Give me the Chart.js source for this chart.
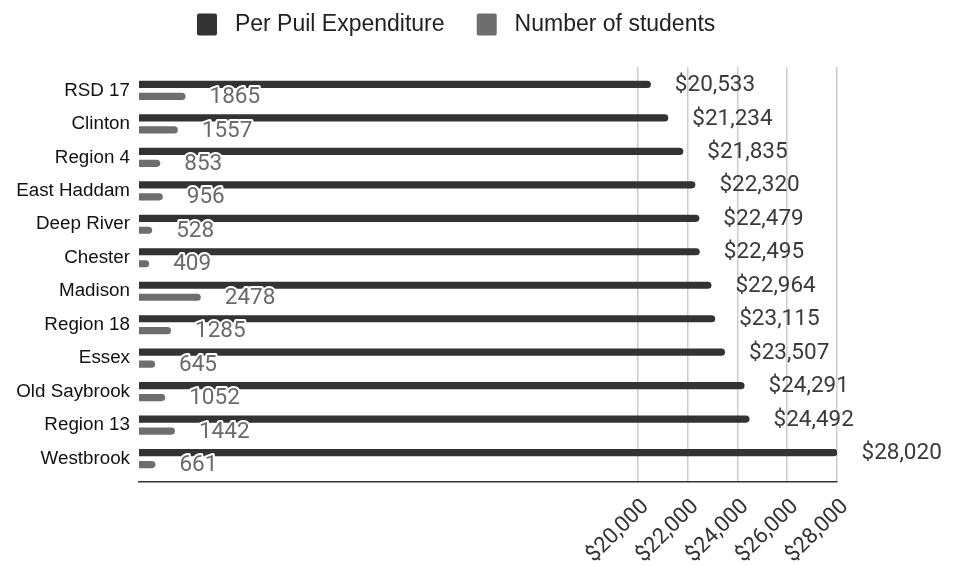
<!DOCTYPE html>
<html>
<head>
<meta charset="utf-8">
<title>Per Pupil Expenditure</title>
<script src="https://cdn.jsdelivr.net/npm/chart.js@4/dist/chart.umd.min.js"></script>
<style>
  html, body { margin: 0; padding: 0; background: #fff; }
  #wrap { width: 961px; height: 566px; }
</style>
</head>
<body>
<div id="wrap"><canvas id="expChart" width="961" height="566"></canvas></div>
<script>
// districts, top to bottom
const districts = ['RSD 17', 'Clinton', 'Region 4', 'East Haddam', 'Deep River', 'Chester',
    'Madison', 'Region 18', 'Essex', 'Old Saybrook', 'Region 13', 'Westbrook'];
const expenditure = [20533, 21234, 21835, 22320, 22479, 22495, 22964, 23115, 23507, 24291, 24492, 28020];
const students = [1865, 1557, 853, 956, 528, 409, 2478, 1285, 645, 1052, 1442, 661];
const xTicks = [20000, 22000, 24000, 26000, 28000];

const money = v => '$' + v.toLocaleString('en-US');

// value labels to the right of every bar
const barLabels = {
    id: 'barLabels',
    afterDatasetsDraw(chart) {
        const ctx = chart.ctx;
        ctx.save();
        ctx.textAlign = 'left';
        ctx.textBaseline = 'middle';
        chart.data.datasets.forEach((ds, di) => {
            const meta = chart.getDatasetMeta(di);
            meta.data.forEach((bar, i) => {
                const x = bar.x + 24;
                const y = bar.y + 1;
                if (di === 0) {
                    ctx.font = '22.5px Roboto';
                    ctx.fillStyle = '#3a3a3a';
                    ctx.fillText(money(expenditure[i]), x, y);
                } else {
                    ctx.font = '22.5px Roboto';
                    ctx.lineJoin = 'round';
                    ctx.lineWidth = 4;
                    ctx.strokeStyle = '#ffffff';
                    ctx.strokeText(String(students[i]), x, y);
                    ctx.fillStyle = '#6a6a6a';
                    ctx.fillText(String(students[i]), x, y);
                }
            });
        });
        ctx.restore();
    }
};

// extra room under the legend, and legend start position
const legendPlace = {
    id: 'legendPlace',
    beforeInit(chart) {
        const origFit = chart.legend.fit;
        chart.legend.fit = function fit() {
            origFit.bind(chart.legend)();
            this.height += 21;
        };
    },
    afterLayout(chart) {
        chart.legend.left = 197 - 13;
    }
};

const ctx = document.getElementById('expChart').getContext('2d');
new Chart(ctx, {
    type: 'bar',
    data: {
        datasets: [
            {
                label: 'Per Puil Expenditure',
                data: expenditure.map((v, i) => ({ x: v, y: i })),
                backgroundColor: '#333333',
                borderRadius: 4,
                borderSkipped: 'start'
            },
            {
                label: 'Number of students',
                data: students.map((v, i) => ({ x: v, y: i })),
                backgroundColor: '#6e6e6e',
                borderRadius: 4,
                borderSkipped: 'start'
            }
        ]
    },
    options: {
        indexAxis: 'y',
        responsive: false,
        animation: false,
        categoryPercentage: 0.715,
        barPercentage: 0.6,
        layout: { padding: { top: 0, right: 124, bottom: 0, left: 0 } },
        scales: {
            x: {
                type: 'linear',
                min: 0,
                max: 28000,
                afterBuildTicks: s => { s.ticks = xTicks.map(v => ({ value: v })); },
                afterFit: s => { s.height = 84; },
                grid: { color: '#cccccc', lineWidth: 1.5, drawTicks: false },
                border: { display: true, color: '#333333', width: 1.5 },
                ticks: {
                    minRotation: 45,
                    maxRotation: 45,
                    autoSkip: false,
                    padding: 12,
                    labelOffset: 8,
                    color: '#333333',
                    font: { family: 'Roboto', size: 22 },
                    callback: v => money(v)
                }
            },
            y: {
                type: 'linear',
                reverse: true,
                offset: false,
                min: -0.7,
                max: 11.7,
                afterBuildTicks: s => { s.ticks = districts.map((d, i) => ({ value: i })); },
                afterFit: s => { s.width = 139; },
                grid: { display: false, drawTicks: false },
                border: { display: false },
                ticks: {
                    autoSkip: false,
                    padding: 9,
                    color: '#111111',
                    font: { family: 'Liberation Sans', size: 18.8 },
                    callback: v => districts[v]
                }
            }
        },
        plugins: {
            legend: {
                position: 'top',
                align: 'start',
                labels: {
                    boxWidth: 20,
                    boxHeight: 22,
                    useBorderRadius: true,
                    borderRadius: 2,
                    padding: 13,
                    color: '#222222',
                    font: { family: 'Liberation Sans', size: 23 },
                    generateLabels(chart) {
                        const items = Chart.defaults.plugins.legend.labels.generateLabels(chart);
                        items.forEach((it, i) => {
                            it.text = ' ' + it.text + (i === 0 ? '   ' : '');
                            it.lineWidth = 0;
                        });
                        return items;
                    }
                }
            },
            tooltip: { enabled: false }
        }
    },
    plugins: [barLabels, legendPlace]
});
</script>
</body>
</html>
